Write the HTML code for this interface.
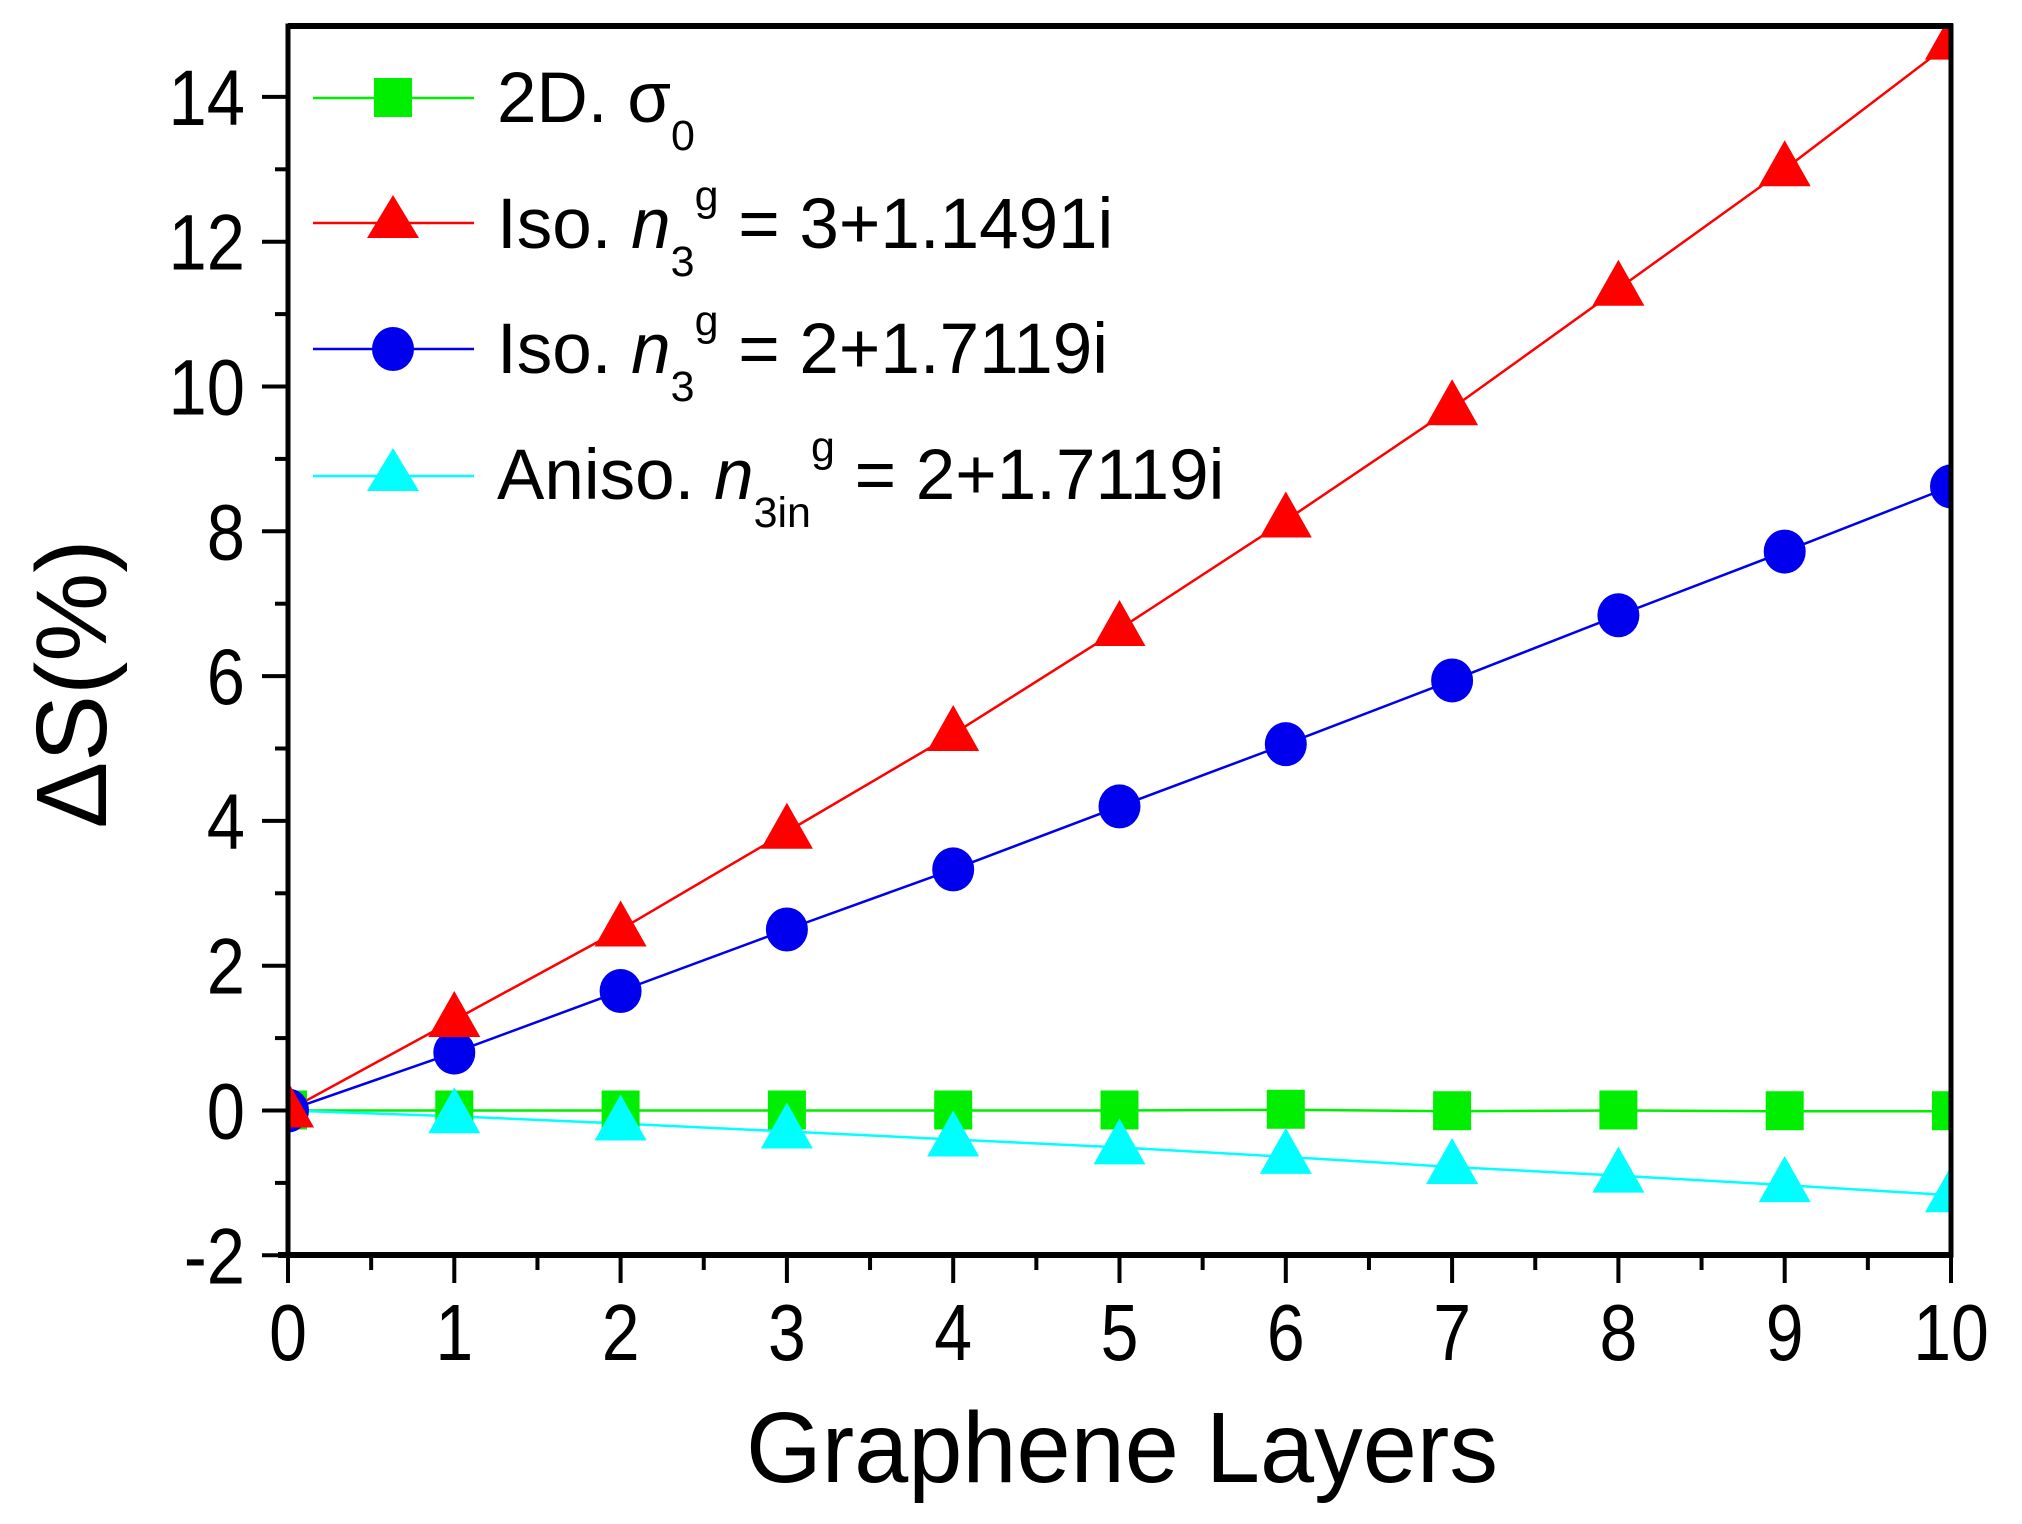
<!DOCTYPE html>
<html><head><meta charset="utf-8"><style>body{margin:0;background:#fff}svg{display:block}text{font-family:"Liberation Sans",sans-serif}</style></head><body>
<svg width="2022" height="1524" viewBox="0 0 2022 1524" xmlns="http://www.w3.org/2000/svg">
<defs><clipPath id="cp"><rect x="288" y="27" width="1663" height="1228"/></clipPath></defs>
<rect width="2022" height="1524" fill="#fff"/>
<g id="yt" stroke="#000" stroke-width="4"></g>
<g id="xt" stroke="#000" stroke-width="4"></g>
<g id="series" clip-path="url(#cp)"></g>
<rect x="288" y="26" width="1663" height="1229" fill="none" stroke="#000" stroke-width="5"/>
<line x1="278" y1="1255" x2="1953" y2="1255" stroke="#000" stroke-width="6"/>
<line x1="288" y1="26" x2="1953" y2="26" stroke="#000" stroke-width="6"/>
<g font-size="79" text-anchor="end" id="yl"></g>
<g font-size="80" text-anchor="middle" id="xl"></g>
<text x="746" y="1482" font-size="100" textLength="752" lengthAdjust="spacingAndGlyphs">Graphene Layers</text>
<text transform="translate(106,684) rotate(-90)" font-size="100" text-anchor="middle">ΔS(%)</text>
<!-- legend -->
<g stroke-width="2.5">
<line x1="313" y1="98" x2="474" y2="98" stroke="#00ee00"/>
<rect x="374" y="78" width="38" height="39" fill="#00ee00"/>
<line x1="313" y1="223" x2="474" y2="223" stroke="#ff0000"/>
<polygon points="393,195 419,238 367,238" fill="#ff0000"/>
<line x1="313" y1="349" x2="474" y2="349" stroke="#0000ee"/>
<ellipse cx="393" cy="349" rx="21" ry="22" fill="#0000ee"/>
<line x1="313" y1="476" x2="474" y2="476" stroke="#00ffff"/>
<polygon points="393,448 419,491 367,491" fill="#00ffff"/>
</g>
<g font-size="71">
<text x="497" y="122">2D. σ<tspan font-size="43" dy="28">0</tspan></text>
<text x="497" y="248">Iso. <tspan font-style="italic">n</tspan><tspan font-size="43" dy="28">3</tspan><tspan font-size="43" dy="-66">g</tspan><tspan dy="38"> = 3+1.1491i</tspan></text>
<text x="497" y="373">Iso. <tspan font-style="italic">n</tspan><tspan font-size="43" dy="28">3</tspan><tspan font-size="43" dy="-66">g</tspan><tspan dy="38"> = 2+1.7119i</tspan></text>
<text x="497" y="499">Aniso. <tspan font-style="italic">n</tspan><tspan font-size="43" dy="28">3in</tspan><tspan font-size="43" dy="-66">g</tspan><tspan dy="38"> = 2+1.7119i</tspan></text>
</g>
<script>
var ns="http://www.w3.org/2000/svg";
function el(p,t,a,tx){var e=document.createElementNS(ns,t);for(var k in a)e.setAttribute(k,a[k]);if(tx!==undefined)e.textContent=tx;document.getElementById(p).appendChild(e);return e;}
function X(n){return 288+166.3*n;} function Y(v){return 1110.5-72.4*v;}
for(var v=-2;v<=14;v++){var y=Y(v);el('yt','line',{x1:288,y1:y,x2:(v%2==0?262:275),y2:y});if(v%2==0)el('yl','text',{transform:'translate(245,'+(y+28)+') scale(0.87,1)'},String(v));}
for(var i=0;i<=20;i++){var x=288+83.15*i;el('xt','line',{x1:x,y1:1255,x2:x,y2:(i%2==0?1283:1270)});if(i%2==0)el('xl','text',{transform:'translate('+x+',1360) scale(0.85,1)'},String(i/2));}
var red=[0,1.25,2.5,3.85,5.2,6.65,8.15,9.7,11.35,13.0,14.75];
var blue=[0,0.8,1.65,2.5,3.33,4.2,5.06,5.94,6.84,7.72,8.62];
var green=[0,0,0,0,0,0,0.01,-0.01,0,-0.01,-0.01];
var cyan=[0,-0.08,-0.18,-0.29,-0.4,-0.51,-0.64,-0.78,-0.9,-1.03,-1.17];
function line(d,c){var p=d.map(function(v,i){return X(i)+','+Y(v)}).join(' ');el('series','polyline',{points:p,fill:'none',stroke:c,'stroke-width':2.5});}
line(green,'#00ee00');line(cyan,'#00ffff');line(blue,'#0000ee');line(red,'#ff0000');
function tri(x,y,c){el('series','polygon',{points:x+','+(y-29)+' '+(x+26)+','+(y+17)+' '+(x-26)+','+(y+17),fill:c});}
green.forEach(function(v,i){el('series','rect',{x:X(i)-19,y:Y(v)-20,width:38,height:39,fill:'#00ee00'});});
cyan.forEach(function(v,i){tri(X(i),Y(v),'#00ffff');});
blue.forEach(function(v,i){el('series','ellipse',{cx:X(i),cy:Y(v),rx:21,ry:22,fill:'#0000ee'});});
red.forEach(function(v,i){tri(X(i),Y(v),'#ff0000');});
</script>
</svg>
</body></html>
